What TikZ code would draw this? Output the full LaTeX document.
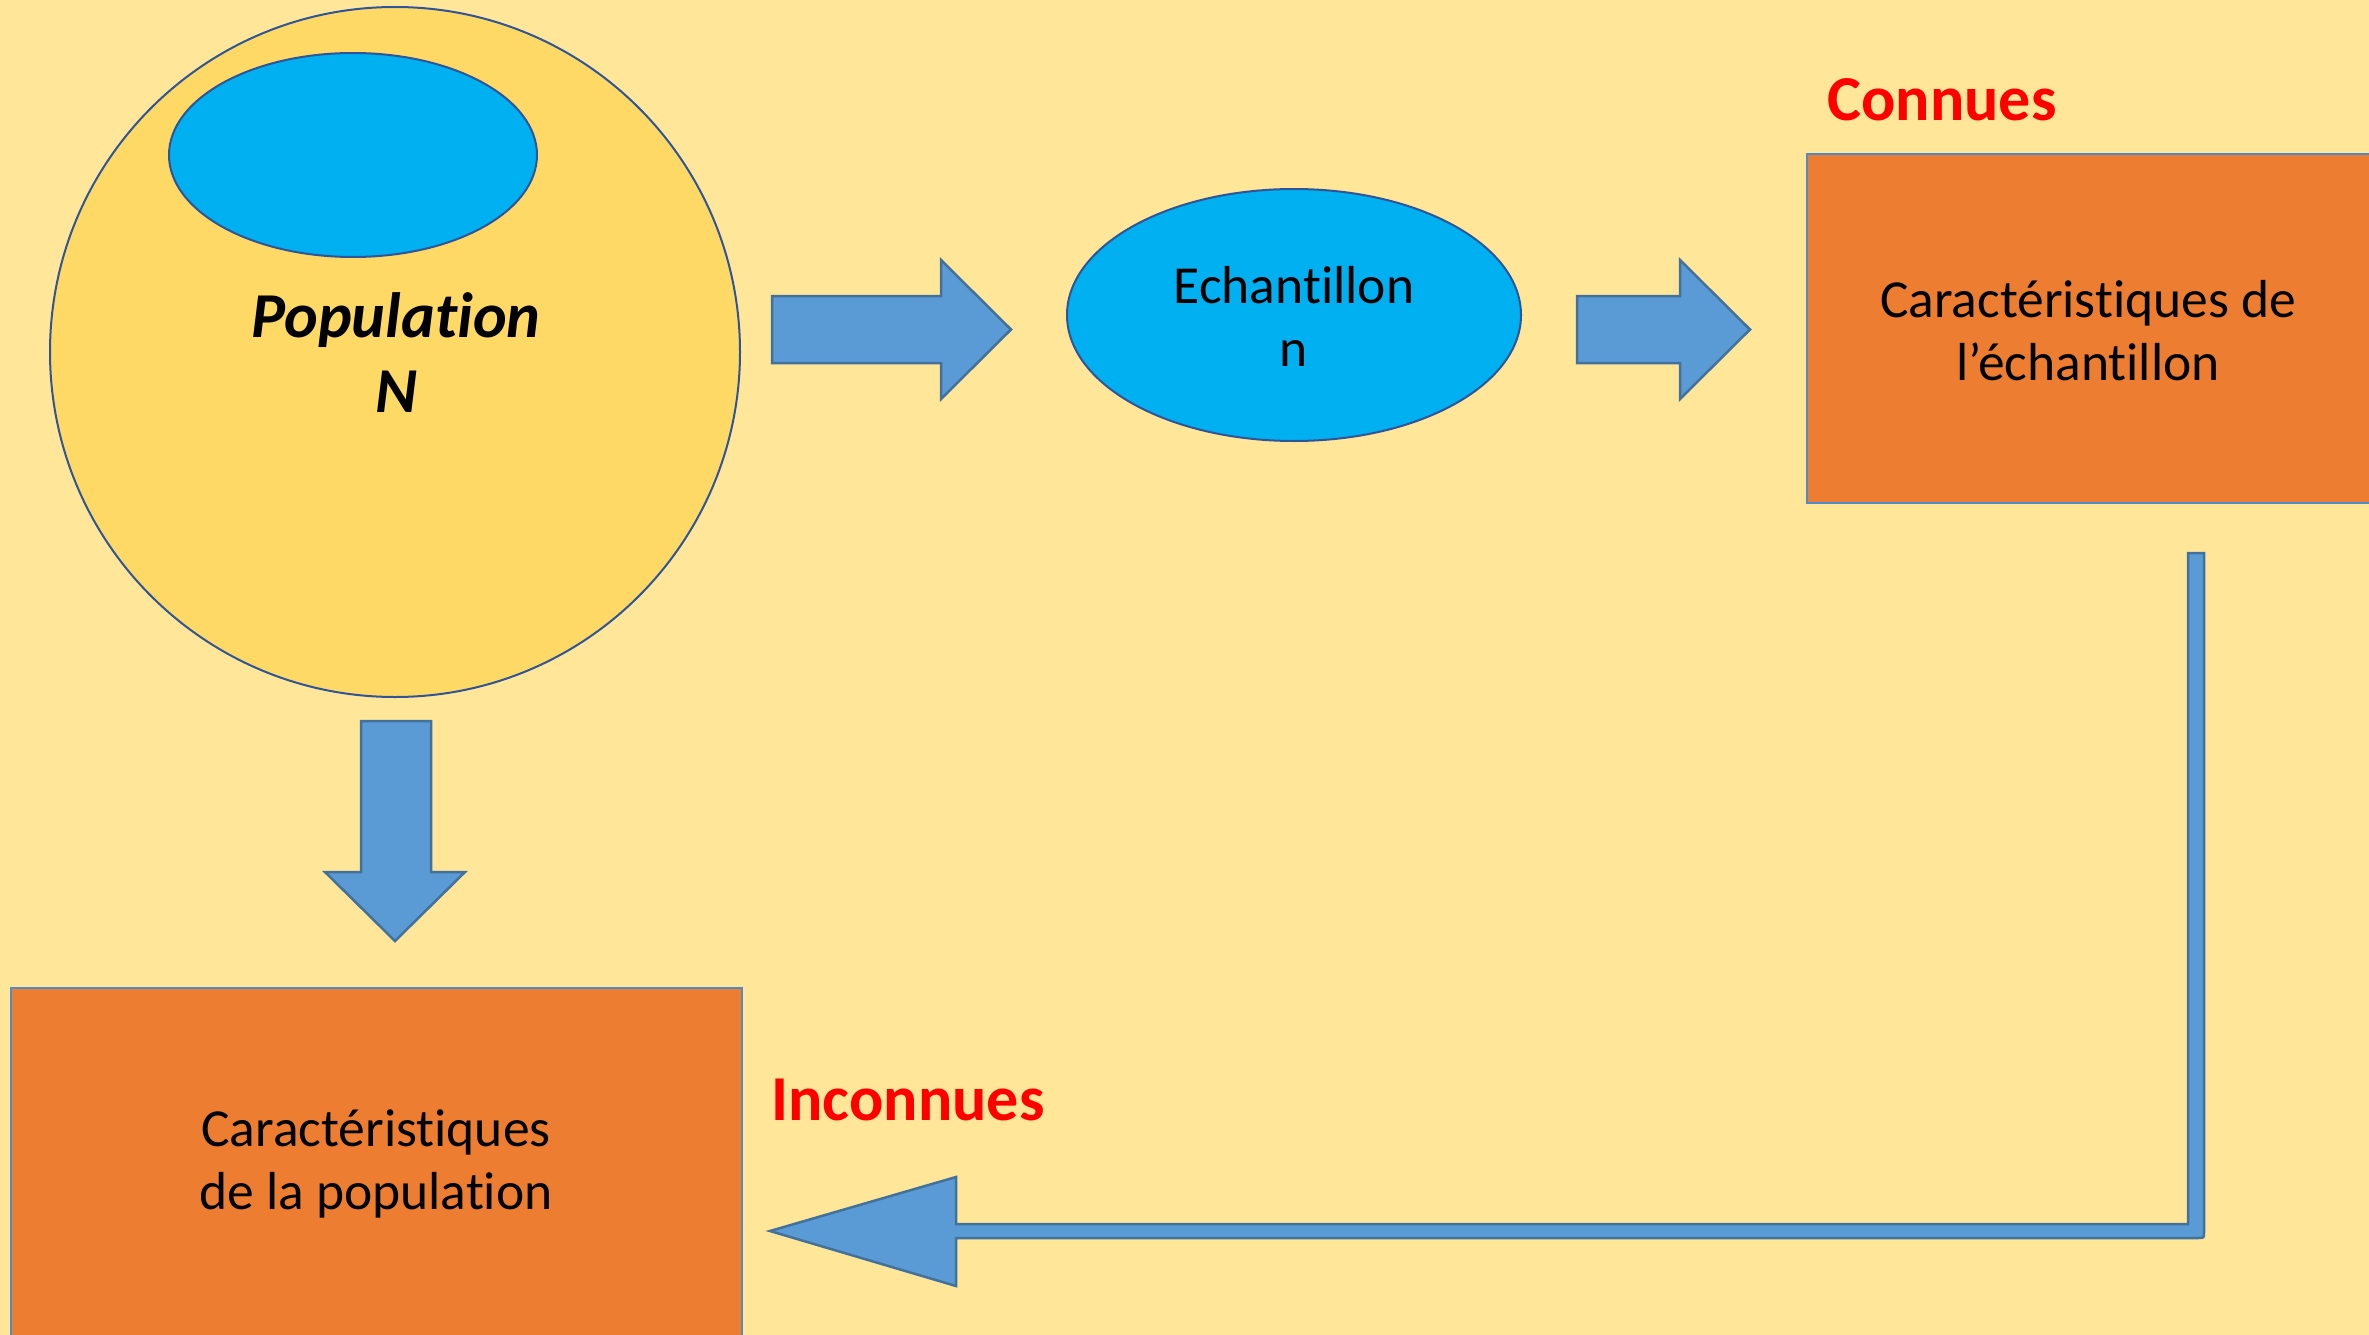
\documentclass[tikz,border=0pt]{standalone}
\usepackage{fontspec}
\usetikzlibrary{shapes.geometric}
\setmainfont[Ligatures=NoCommon]{Carlito}
\definecolor{bg}{HTML}{FFE699}
\definecolor{popfill}{HTML}{FFD966}
\definecolor{cyanfill}{HTML}{00B0F0}
\definecolor{arrowfill}{HTML}{5B9BD5}
\definecolor{arrowline}{HTML}{41719C}
\definecolor{shapeline}{HTML}{2F5597}
\definecolor{boxfill}{HTML}{ED7D31}
\definecolor{boxline}{HTML}{4F8ACB}
\tikzset{
  blockarrow/.style={fill=arrowfill, draw=arrowline, line width=2.5pt, line join=miter},
  bodytext/.style={font=\fontsize{53.5}{63}\selectfont, align=center, text=black},
  redlabel/.style={font=\fontsize{64}{74}\selectfont\bfseries, text=red},
}
\begin{document}
\begin{tikzpicture}[x=1pt,y=-1pt]
\useasboundingbox (0,0) rectangle (2369,1335);
\fill[bg] (0,0) rectangle (2369,1335);
% population circle
\node (pop) [circle, minimum size=690pt, fill=popfill, draw=shapeline, line width=2pt, inner sep=0pt] at (395,352) {};
\node (sub) [ellipse, minimum width=368pt, minimum height=204pt, fill=cyanfill, draw=shapeline, line width=2pt, inner sep=0pt] at (353,155) {};
\node (poptext) [font=\fontsize{64}{75}\selectfont\bfseries\itshape, align=center] at (396,353) {Population\\N};
% echantillon
\node (ech) [ellipse, minimum width=454pt, minimum height=252pt, fill=cyanfill, draw=shapeline, line width=2pt, inner sep=0pt] at (1294,315) {};
\node (echtext) [bodytext] at (1294,316) {Echantillon\\n};
% top right box
\fill[boxfill] (1807,154) rectangle (2375,503);
\draw[boxline, line width=2pt] (2375,154) -- (1807,154) -- (1807,503) -- (2375,503);
\node (ctext) [bodytext] at (2088,331) {Caractéristiques de\\l’échantillon};
\node (connues) [redlabel] at (1942,100) {Connues};
% bottom box
\fill[boxfill] (11,988) rectangle (742,1345);
\draw[boxline, line width=2pt] (11,1345) -- (11,988) -- (742,988) -- (742,1345);
\node (ptext) [bodytext] at (376,1164) {Caractéristiques\\de la population};
\node (inconnues) [redlabel] at (908,1100) {Inconnues};
% block arrow 1
\draw[blockarrow] (772,296) -- (941,296) -- (941,260) -- (1011,329.5) -- (941,399) -- (941,363) -- (772,363) -- cycle;
% block arrow 2
\draw[blockarrow] (1577,296) -- (1680,296) -- (1680,260) -- (1750,329.5) -- (1680,399) -- (1680,363) -- (1577,363) -- cycle;
% down arrow
\draw[blockarrow] (361,721) -- (431,721) -- (431,872) -- (465,872) -- (395,941) -- (325,872) -- (361,872) -- cycle;
% elbow arrow
\draw[blockarrow] (2188,553) -- (2204,553) -- (2204,1232) .. controls (2204,1238) .. (2198,1238) -- (956,1238) -- (956,1286) -- (770,1231) -- (956,1177) -- (956,1224) -- (2188,1224) -- cycle;
\end{tikzpicture}
\end{document}
